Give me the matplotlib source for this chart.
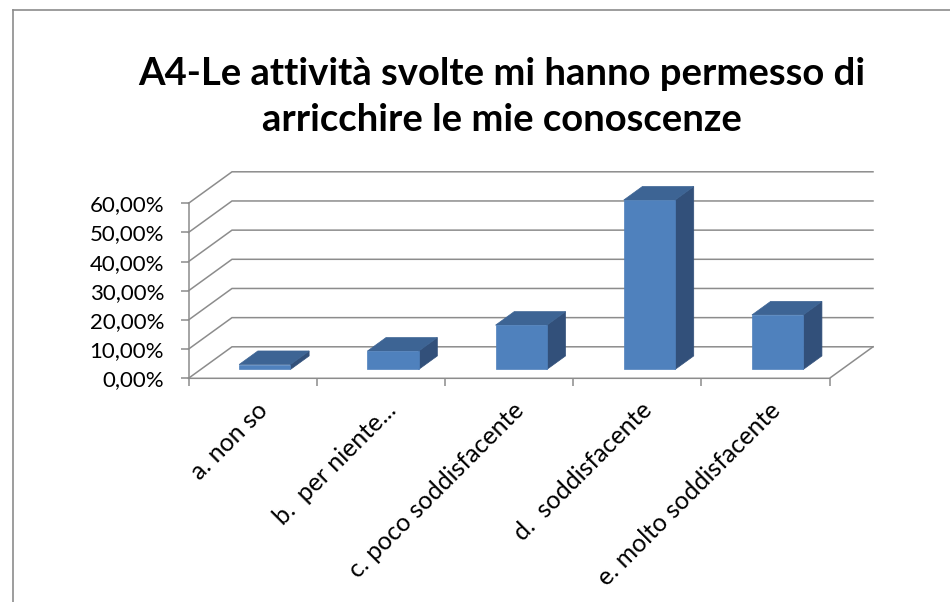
import numpy as np
import matplotlib
matplotlib.use("Agg")
import matplotlib.pyplot as plt
from matplotlib.patches import Polygon
from matplotlib.lines import Line2D
from matplotlib.ticker import FuncFormatter

# --- data ---
categories = [
    "a. non so",
    "b.  per niente...",
    "c. poco soddisfacente",
    "d.  soddisfacente",
    "e. molto soddisfacente",
]
values = [0.017, 0.063, 0.152, 0.581, 0.187]
y_ticks = [0.0, 0.1, 0.2, 0.3, 0.4, 0.5, 0.6]
title_lines = ["A4-Le attività svolte mi hanno permesso di",
               "arricchire le mie conoscenze"]

FONT = "Lato"
GRID = "#8c8c8c"
FRONT = "#4f81bd"
TOP = "#3d6494"
SIDE = "#32507a"

W, H = 950, 602

# fake 3D: depth d in [0, 1] shifts a point right/up by DEPTH_PX
DEPTH_PX = (43.5, 31.5)
PX_X = 128.2             # pixels per category
PX_Y = 175.0 / 0.6       # pixels per unit of value


def proj(x, y, d):
    return x + d * DEPTH_PX[0] / PX_X, y + d * DEPTH_PX[1] / PX_Y


def main():
    fig = plt.figure(figsize=(W / 100, H / 100), dpi=100)
    ax = fig.add_axes([188.5 / W, (H - 378.3) / H, 641 / W, 175 / H])
    n = len(categories)
    ax.set_xlim(-0.5, n - 0.5)
    ax.set_ylim(0, 0.6)

    for s in ["top", "right", "bottom"]:
        ax.spines[s].set_visible(False)
    ax.spines["left"].set_color(GRID)
    ax.spines["left"].set_linewidth(1.1)

    ax.set_yticks(y_ticks)
    ax.yaxis.set_major_formatter(FuncFormatter(lambda v, p: f"{v * 100:.2f}%".replace(".", ",")))
    ax.tick_params(axis="y", direction="out", length=5.5, width=1.1, color=GRID,
                   pad=12, labelsize=16)
    ax.set_xticks(np.arange(n + 1) - 0.5)
    ax.set_xticklabels([])
    ax.tick_params(axis="x", direction="out", length=5.5, width=1.1, color=GRID)
    for lbl in ax.get_yticklabels():
        lbl.set_fontfamily(FONT)

    # back wall gridlines + left wall diagonals
    x0, x1 = -0.5, n - 0.5
    for yv in y_ticks:
        pts = [proj(x0, yv, 0), proj(x0, yv, 1), proj(x1, yv, 1)]
        ax.plot([p[0] for p in pts], [p[1] for p in pts], color=GRID, lw=1.1,
                clip_on=False, zorder=1, solid_joinstyle="miter")
    # floor front edge and right edge
    pts = [proj(x0, 0, 0), proj(x1, 0, 0), proj(x1, 0, 1)]
    ax.plot([p[0] for p in pts], [p[1] for p in pts], color=GRID, lw=1.1,
            clip_on=False, zorder=1)

    # bars with front / top / side faces
    bw = 0.40
    d0, d1 = 0.28, 0.71
    for i, v in enumerate(values):
        l, r = i - bw / 2, i + bw / 2
        side = [proj(r, 0, d0), proj(r, 0, d1), proj(r, v, d1), proj(r, v, d0)]
        top = [proj(l, v, d0), proj(r, v, d0), proj(r, v, d1), proj(l, v, d1)]
        front = [proj(l, 0, d0), proj(r, 0, d0), proj(r, v, d0), proj(l, v, d0)]
        ax.add_patch(Polygon(side, closed=True, facecolor=SIDE, edgecolor=SIDE,
                             lw=0.5, clip_on=False, zorder=3))
        ax.add_patch(Polygon(top, closed=True, facecolor=TOP, edgecolor=TOP,
                             lw=0.5, clip_on=False, zorder=3))
        ax.add_patch(Polygon(front, closed=True, facecolor=FRONT, edgecolor=FRONT,
                             lw=0.5, clip_on=False, zorder=4))

    # rotated category labels
    for i, c in enumerate(categories):
        ax.annotate(c, xy=(i, 0), xytext=(3, -20), textcoords="offset pixels",
                    rotation=45, ha="right", va="top", rotation_mode="anchor",
                    fontsize=18, fontfamily=FONT, annotation_clip=False)

    # title
    fig.text(502 / W, 1 - 85 / H, title_lines[0], ha="center", va="baseline",
             fontsize=27.5, fontweight="bold", fontfamily=FONT)
    fig.text(502 / W, 1 - 131 / H, title_lines[1], ha="center", va="baseline",
             fontsize=27.5, fontweight="bold", fontfamily=FONT)

    # chart area border (top and left visible)
    fig.add_artist(Line2D([13 / W, 1], [1 - 10 / H, 1 - 10 / H], color=GRID, lw=1.2,
                          transform=fig.transFigure))
    fig.add_artist(Line2D([13 / W, 13 / W], [0, 1 - 10 / H], color=GRID, lw=1.2,
                          transform=fig.transFigure))

    fig.savefig("out.png", dpi=100)
    plt.close(fig)


if __name__ == "__main__":
    main()
